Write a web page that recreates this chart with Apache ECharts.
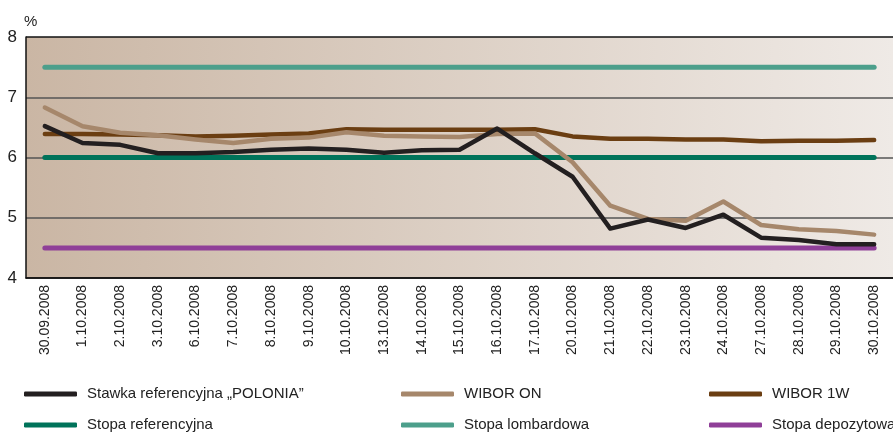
<!DOCTYPE html>
<html>
<head>
<meta charset="utf-8">
<script src="https://cdn.jsdelivr.net/npm/echarts@6/dist/echarts.min.js"></script>
<style>
html,body{margin:0;padding:0;background:#fff;}
#chart{width:893px;height:434px;}
</style>
</head>
<body>
<div id="chart"></div>
<script>
var dates = ['30.09.2008','1.10.2008','2.10.2008','3.10.2008','6.10.2008','7.10.2008','8.10.2008','9.10.2008',
	'10.10.2008','13.10.2008','14.10.2008','15.10.2008','16.10.2008','17.10.2008','20.10.2008','21.10.2008',
	'22.10.2008','23.10.2008','24.10.2008','27.10.2008','28.10.2008','29.10.2008','30.10.2008'];
var polonia = [6.52,6.24,6.21,6.07,6.07,6.09,6.13,6.15,6.13,6.08,6.12,6.13,6.48,6.07,5.68,4.82,4.97,4.83,5.05,4.67,4.63,4.56,4.56];
var wiborOn = [6.83,6.52,6.41,6.37,6.30,6.24,6.31,6.33,6.42,6.36,6.35,6.34,6.39,6.40,5.92,5.20,4.98,4.95,5.27,4.88,4.81,4.78,4.72];
var wibor1w = [6.39,6.39,6.38,6.37,6.35,6.36,6.38,6.40,6.47,6.46,6.46,6.46,6.46,6.47,6.35,6.31,6.31,6.30,6.30,6.27,6.28,6.28,6.29];
var stopaRef = [6,6,6,6,6,6,6,6,6,6,6,6,6,6,6,6,6,6,6,6,6,6,6];
var stopaLomb = [7.5,7.5,7.5,7.5,7.5,7.5,7.5,7.5,7.5,7.5,7.5,7.5,7.5,7.5,7.5,7.5,7.5,7.5,7.5,7.5,7.5,7.5,7.5];
var stopaDep = [4.5,4.5,4.5,4.5,4.5,4.5,4.5,4.5,4.5,4.5,4.5,4.5,4.5,4.5,4.5,4.5,4.5,4.5,4.5,4.5,4.5,4.5,4.5];
var yTicks = [4,5,6,7,8];

var font = 'Liberation Sans Narrow, Liberation Sans, sans-serif';
var chart = echarts.init(document.getElementById('chart'));

function line(name, data, color, width, z) {
	return {
		name: name,
		type: 'line',
		data: data,
		symbol: 'none',
		z: z,
		animation: false,
		lineStyle: { color: color, width: width, cap: 'round', join: 'round' },
		itemStyle: { color: color }
	};
}

// one legend per column, two rows each
function legendCol(left, names) {
	return {
		orient: 'vertical',
		left: left,
		top: 386,
		height: 48,
		padding: 0,
		itemWidth: 53,
		itemHeight: 5,
		itemGap: 15,
		icon: 'roundRect',
		data: names,
		textStyle: { fontFamily: font, fontSize: 15, color: '#222', lineHeight: 16, padding: [0, 0, 0, 5] }
	};
}

chart.setOption({
	animation: false,
	grid: {
		left: 26, right: 0, top: 37, bottom: 156,
		show: true,
		borderWidth: 0,
		backgroundColor: new echarts.graphic.LinearGradient(0, 0, 1, 0, [
			{ offset: 0, color: '#cab6a4' },
			{ offset: 1, color: '#efeae6' }
		])
	},
	legend: [
		legendCol(24, ['Stawka referencyjna „POLONIA”', 'Stopa referencyjna']),
		legendCol(401, ['WIBOR ON', 'Stopa lombardowa']),
		legendCol(709, ['WIBOR 1W', 'Stopa depozytowa'])
	],
	xAxis: {
		type: 'category',
		data: dates,
		boundaryGap: true,
		axisLine: { lineStyle: { color: '#111', width: 1.5 } },
		axisTick: { inside: true, length: 5, interval: 0, lineStyle: { color: '#333' } },
		axisLabel: { rotate: 90, interval: 0, fontFamily: 'Liberation Sans, sans-serif', fontSize: 14, color: '#222', margin: 7 }
	},
	yAxis: {
		type: 'value',
		min: yTicks[0],
		max: yTicks[yTicks.length - 1],
		interval: 1,
		name: '%',
		nameGap: 8,
		nameTextStyle: { fontFamily: font, fontSize: 15, color: '#222', align: 'left', padding: [0, 0, 0, -2] },
		axisLine: { show: true, lineStyle: { color: '#111', width: 1.5 } },
		axisTick: { show: false },
		axisLabel: { fontFamily: font, fontSize: 17, color: '#222', margin: 9 },
		splitLine: { lineStyle: { color: ['#111', '#555', '#555', '#555', '#111'], width: 1.5 } }
	},
	series: [
		line('Stopa lombardowa', stopaLomb, '#4c9f8b', 5, 2),
		line('Stopa referencyjna', stopaRef, '#00735a', 5, 2),
		line('Stopa depozytowa', stopaDep, '#8f3f98', 5, 2),
		line('WIBOR 1W', wibor1w, '#6b3e12', 4.5, 3),
		line('WIBOR ON', wiborOn, '#a6876b', 4.5, 4),
		line('Stawka referencyjna „POLONIA”', polonia, '#231f20', 4.5, 5)
	]
});
</script>
</body>
</html>
